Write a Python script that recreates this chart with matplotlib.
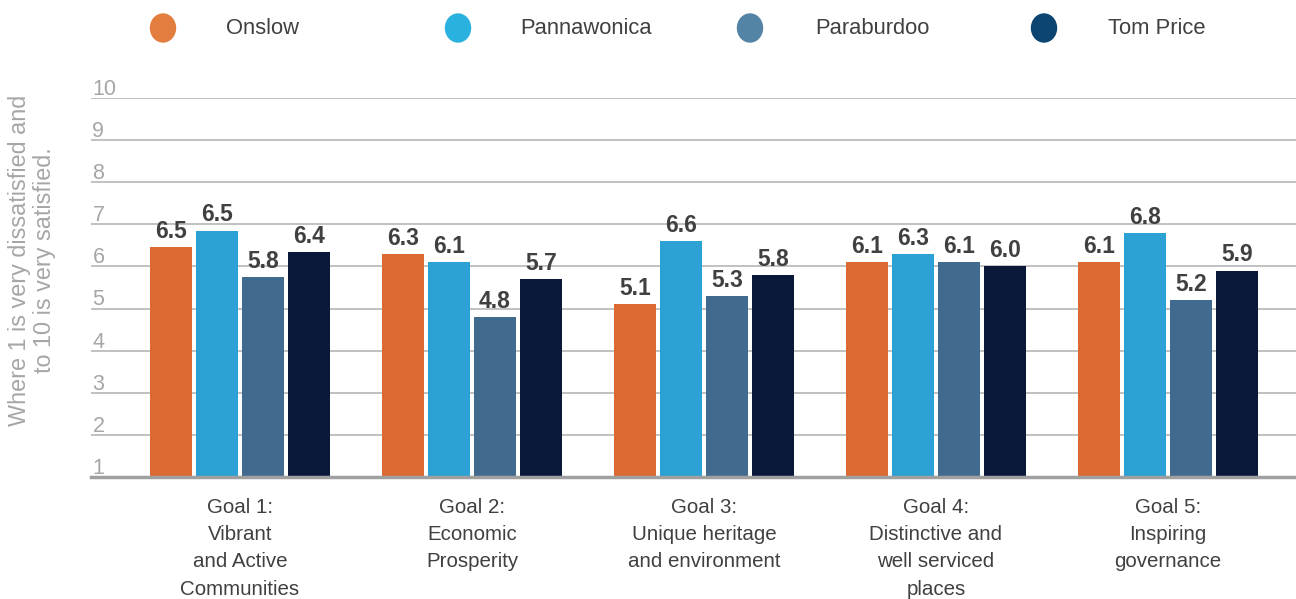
import numpy as np
import matplotlib
matplotlib.use("Agg")
import matplotlib.pyplot as plt
from matplotlib.patches import Ellipse
from matplotlib.transforms import ScaledTranslation

plt.rcParams['font.family'] = ['Liberation Sans', 'DejaVu Sans']

goals = ["Goal 1:\nVibrant\nand Active\nCommunities",
         "Goal 2:\nEconomic\nProsperity",
         "Goal 3:\nUnique heritage\nand environment",
         "Goal 4:\nDistinctive and\nwell serviced\nplaces",
         "Goal 5:\nInspiring\ngovernance"]
towns = ["Onslow", "Pannawonica", "Paraburdoo", "Tom Price"]

# bar heights as drawn in the picture
onslow = [6.45, 6.3, 5.1, 6.1, 6.1]
pannawonica = [6.85, 6.1, 6.6, 6.3, 6.8]   # goal 1 bar is drawn at ~6.9 but labelled 6.5
paraburdoo = [5.75, 4.8, 5.3, 6.1, 5.2]
tom_price = [6.35, 5.7, 5.8, 6.0, 5.9]

# printed value labels
onslow_lbl = ["6.5", "6.3", "5.1", "6.1", "6.1"]
pannawonica_lbl = ["6.5", "6.1", "6.6", "6.3", "6.8"]
paraburdoo_lbl = ["5.8", "4.8", "5.3", "6.1", "5.2"]
tom_price_lbl = ["6.4", "5.7", "5.8", "6.0", "5.9"]

bar_colors = ["#DD6A33", "#2CA1D4", "#416B8E", "#0A1839"]
legend_colors = ["#E47E40", "#29B2DF", "#5383A5", "#0B4570"]

W, H = 1296, 599
fig = plt.figure(figsize=(W / 100, H / 100), dpi=100)
ax = fig.add_axes([91 / W, (H - 477) / H, (W - 91) / W, (477 - 98) / H])

x = np.arange(len(goals))
step = 0.198
width = 0.181
series = [onslow, pannawonica, paraburdoo, tom_price]
labels = [onslow_lbl, pannawonica_lbl, paraburdoo_lbl, tom_price_lbl]
for i, (vals, lbls) in enumerate(zip(series, labels)):
    pos = x + (i - 1.5) * step
    bars = ax.bar(pos, np.array(vals) - 1, width, bottom=1, color=bar_colors[i], zorder=3)
    for b, t in zip(bars, lbls):
        ax.annotate(t, (b.get_x() + b.get_width() / 2, b.get_y() + b.get_height()),
                    xytext=(0, 3), textcoords="offset points", ha="center", va="bottom",
                    fontsize=16.5, fontweight="bold", color="#404040")

ax.set_xlim(-0.642, 4.552)
ax.set_ylim(1, 10)
for v in range(2, 11):
    ax.axhline(v, color="#B0B0B0", lw=1.1, zorder=1)
ax.axhline(1, color="#A0A0A0", lw=2.5, zorder=4, clip_on=False)

for sp in ax.spines.values():
    sp.set_visible(False)

ax.set_xticks(x)
ax.set_xticklabels(goals, fontsize=14.8, color="#404040", linespacing=1.55, va="top")
ax.tick_params(axis="x", length=0, pad=15)

ax.set_yticks(range(1, 11))
ax.set_yticklabels([str(v) for v in range(1, 11)], fontsize=15.5, color="#A6A6A6", ha="left")
ax.tick_params(axis="y", length=0, pad=0)
off = ScaledTranslation(1 / 72, 8 / 72, fig.dpi_scale_trans)
for lab in ax.get_yticklabels():
    lab.set_transform(lab.get_transform() + off)

fig.text(32 / W, 1 - 260 / H, "Where 1 is very dissatisfied and\nto 10 is very satisfied.",
         rotation=90, ha="center", va="center", multialignment="center",
         fontsize=16.8, color="#A6A6A6", linespacing=1.1)

# legend row
lax = fig.add_axes([0, 0, 1, 1], zorder=-1)
lax.set_xlim(0, W)
lax.set_ylim(H, 0)
lax.axis("off")
marker_x = [163, 458, 750, 1044]
text_x = [226, 520, 815, 1108]
for mx, tx, name, c in zip(marker_x, text_x, towns, legend_colors):
    lax.add_patch(Ellipse((mx, 28), 25, 28, color=c))
    lax.text(tx, 28, name, ha="left", va="center", fontsize=15.8, color="#404040")

fig.savefig("out.png", dpi=100)
